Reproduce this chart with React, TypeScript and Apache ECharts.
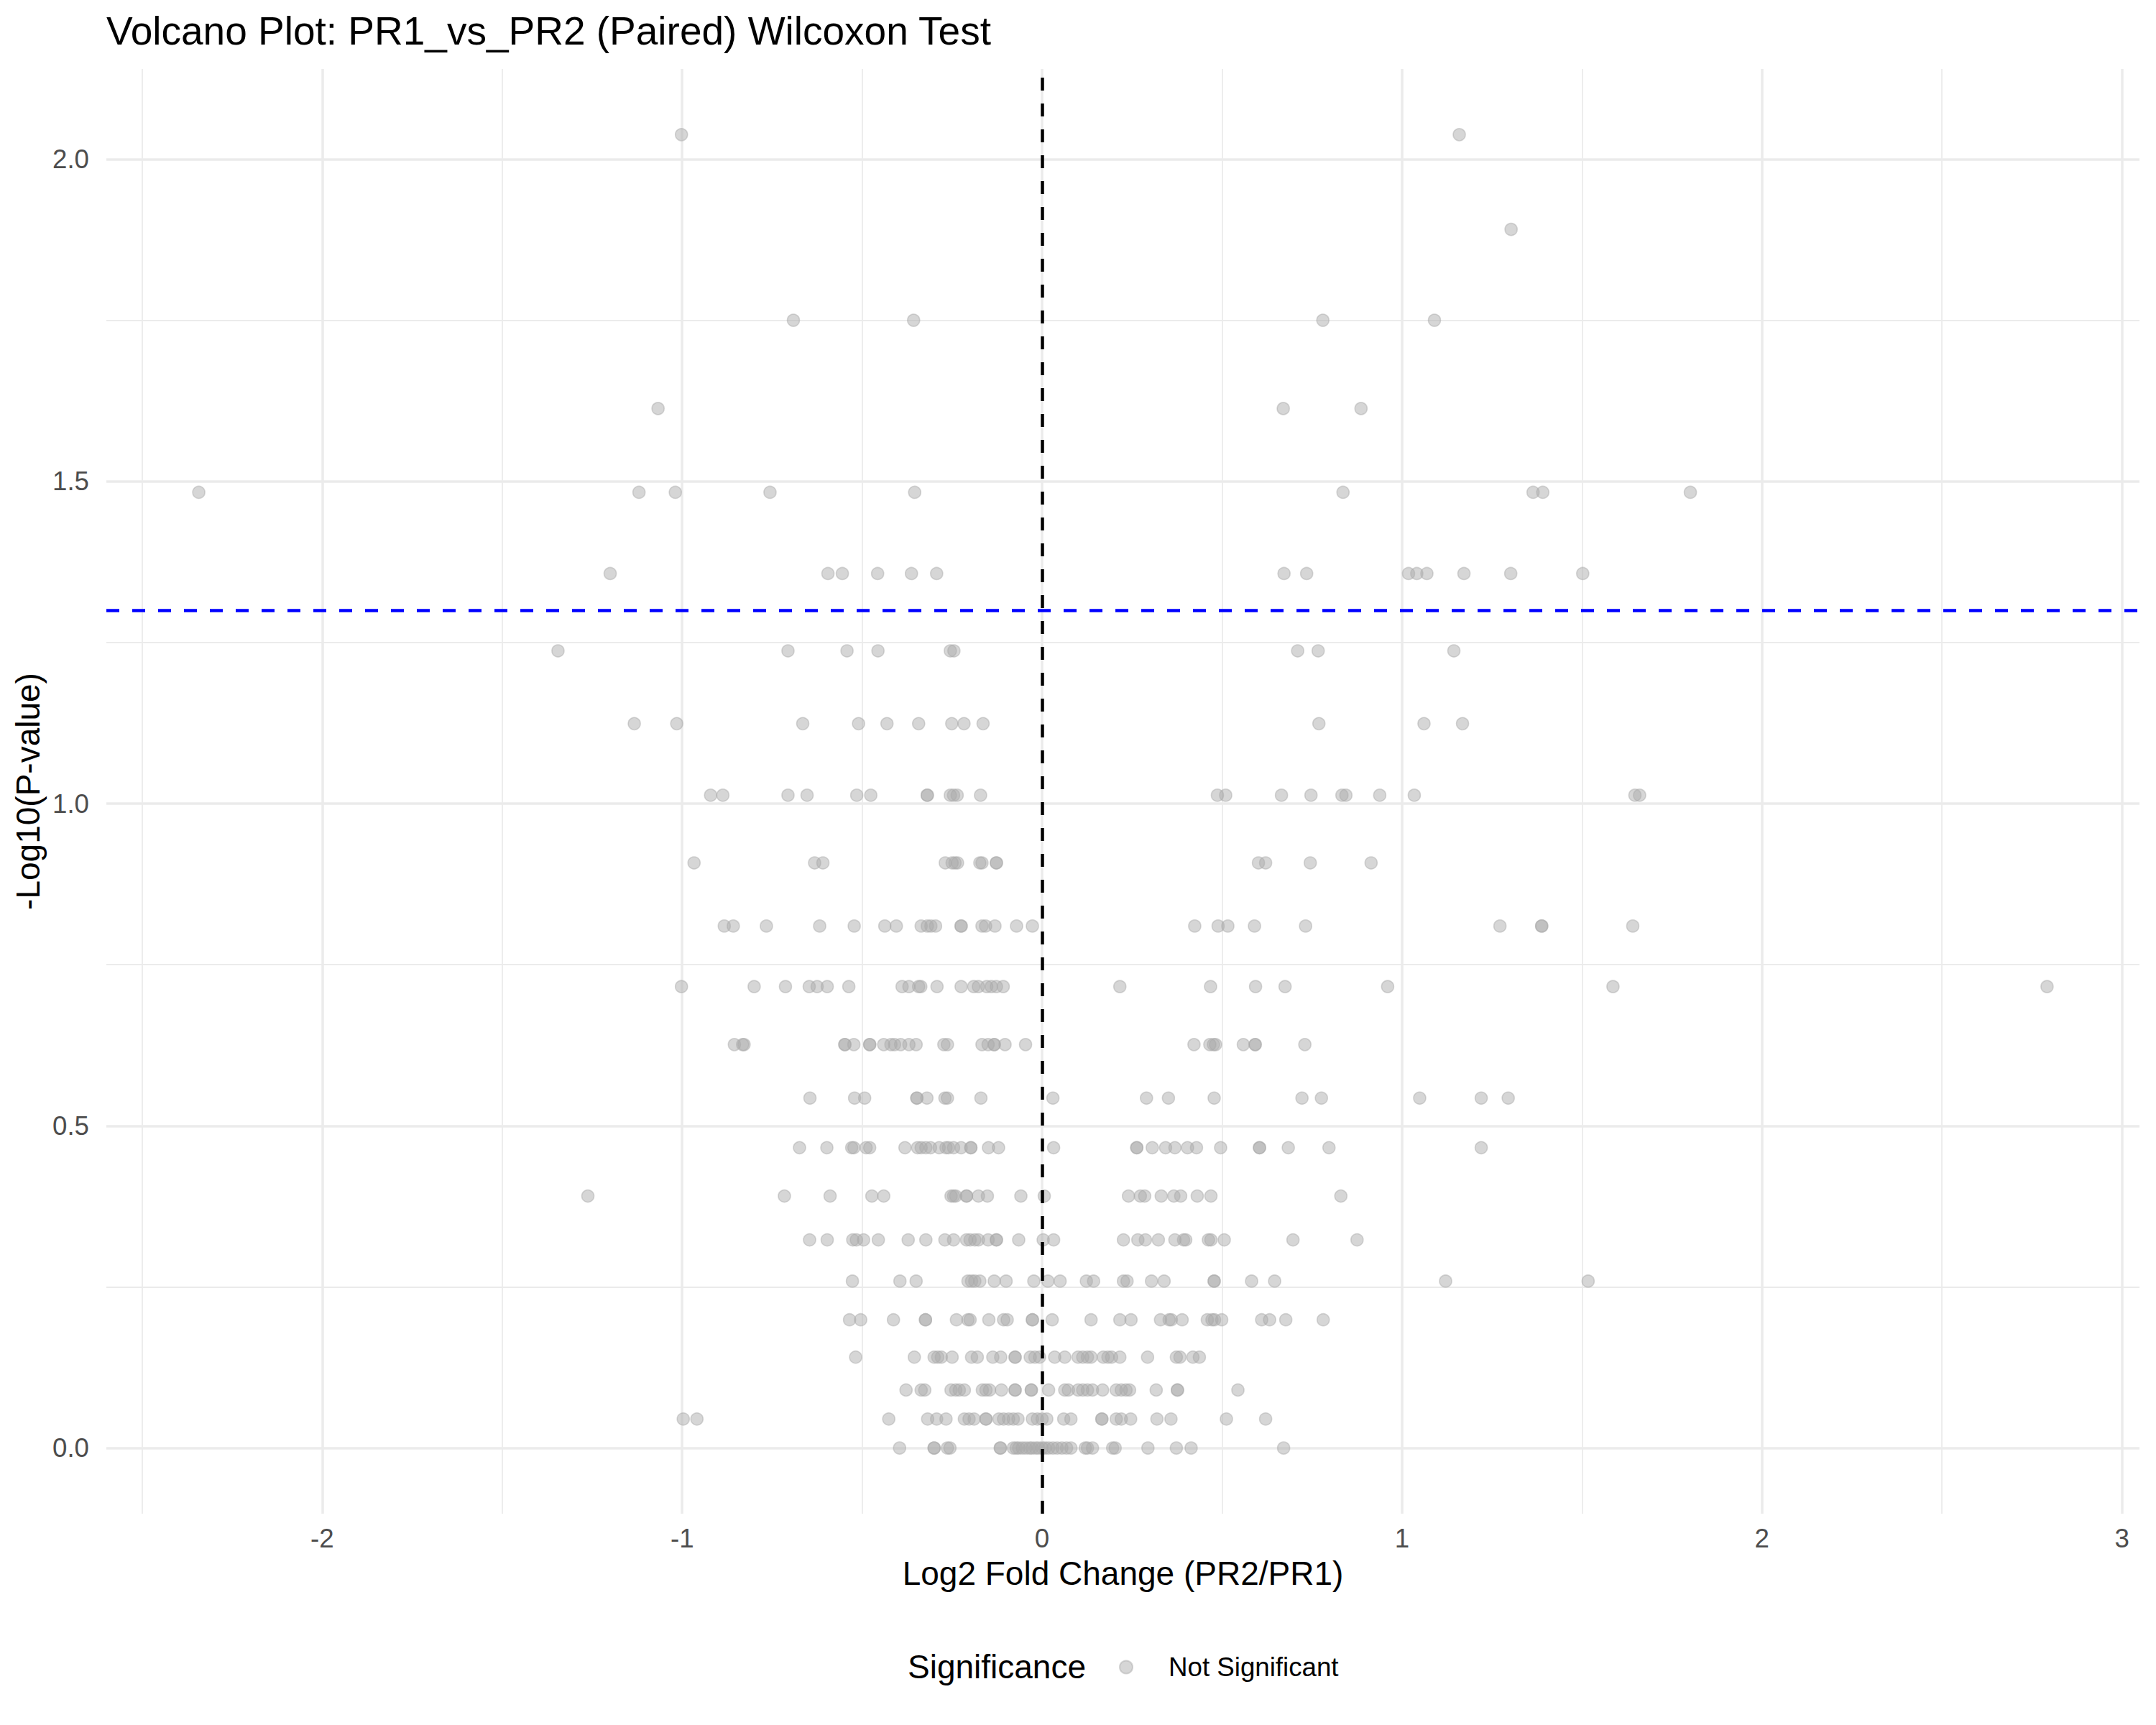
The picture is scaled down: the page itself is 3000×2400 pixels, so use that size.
import React, { useEffect, useRef } from "react";
import * as echarts from "echarts";

// -log10(p) levels observed in the plot (discrete values from the paired Wilcoxon test)
const negLog10PLevels: number[] = [
  0.0, 0.045, 0.09, 0.141, 0.199, 0.259, 0.323, 0.391, 0.466, 0.543, 0.626, 0.716,
  0.81, 0.908, 1.013, 1.124, 1.237, 1.357, 1.483, 1.613, 1.75, 1.891, 2.038,
];

// log2 fold changes of the features found on each -log10(p) level (same order as above)
const log2FCByLevel: number[][] = [
  // 0.000
  [-0.396, -0.3, -0.3, -0.263, -0.256, -0.116, -0.116, -0.08, -0.072, -0.065, -0.055, -0.045, -0.035, -0.028, -0.018,
    -0.01, 0.0, 0.008, 0.018, 0.03, 0.042, 0.055, 0.068, 0.08, 0.12, 0.126, 0.14, 0.196, 0.203, 0.294, 0.373, 0.414, 0.671],
  // 0.045
  [-0.997, -0.959, -0.426, -0.318, -0.293, -0.267, -0.216, -0.203, -0.189, -0.156, -0.156, -0.12, -0.107, -0.093, -0.08,
    -0.067, -0.027, -0.013, 0.0, 0.013, 0.06, 0.08, 0.166, 0.166, 0.206, 0.22, 0.246, 0.319, 0.358, 0.512, 0.621],
  // 0.090
  [-0.378, -0.336, -0.326, -0.253, -0.24, -0.23, -0.216, -0.166, -0.156, -0.146, -0.113, -0.075, -0.075, -0.03, -0.03,
    0.018, 0.063, 0.073, 0.1, 0.113, 0.126, 0.14, 0.168, 0.206, 0.22, 0.233, 0.243, 0.317, 0.376, 0.376, 0.544],
  // 0.141
  [-0.518, -0.355, -0.3, -0.29, -0.28, -0.25, -0.196, -0.18, -0.137, -0.115, -0.075, -0.075, -0.033, -0.02, -0.007,
    0.035, 0.063, 0.1, 0.113, 0.126, 0.136, 0.17, 0.183, 0.193, 0.216, 0.293, 0.373, 0.383, 0.419, 0.437],
  // 0.199
  [-0.535, -0.504, -0.413, -0.324, -0.324, -0.238, -0.206, -0.2, -0.148, -0.107, -0.097, -0.027, -0.027, 0.028, 0.136,
    0.216, 0.247, 0.329, 0.353, 0.359, 0.389, 0.459, 0.472, 0.479, 0.499, 0.61, 0.632, 0.677, 0.781],
  // 0.259
  [-0.527, -0.395, -0.35, -0.206, -0.196, -0.187, -0.173, -0.133, -0.1, -0.023, 0.016, 0.05, 0.123, 0.143, 0.226,
    0.236, 0.304, 0.339, 0.478, 0.478, 0.582, 0.646, 1.121, 1.517],
  // 0.323
  [-0.646, -0.597, -0.526, -0.516, -0.496, -0.455, -0.372, -0.323, -0.27, -0.246, -0.21, -0.2, -0.187, -0.177, -0.15,
    -0.127, -0.127, -0.065, 0.003, 0.032, 0.226, 0.266, 0.287, 0.323, 0.369, 0.393, 0.399, 0.462, 0.469, 0.506, 0.697, 0.875],
  // 0.391
  [-1.262, -0.716, -0.589, -0.473, -0.44, -0.253, -0.246, -0.24, -0.21, -0.21, -0.177, -0.152, -0.059, 0.006, 0.24,
    0.273, 0.285, 0.331, 0.366, 0.385, 0.431, 0.469, 0.83],
  // 0.466
  [-0.674, -0.598, -0.529, -0.523, -0.489, -0.479, -0.381, -0.346, -0.336, -0.323, -0.31, -0.286, -0.267, -0.26, -0.246,
    -0.225, -0.198, -0.198, -0.149, -0.121, 0.032, 0.263, 0.263, 0.306, 0.343, 0.369, 0.404, 0.429, 0.496, 0.604, 0.604,
    0.684, 0.797, 1.22],
  // 0.543
  [-0.645, -0.521, -0.493, -0.348, -0.348, -0.32, -0.27, -0.263, -0.17, 0.03, 0.29, 0.351, 0.478, 0.722, 0.776, 1.049,
    1.22, 1.295],
  // 0.626
  [-0.855, -0.832, -0.828, -0.548, -0.548, -0.523, -0.479, -0.479, -0.44, -0.42, -0.41, -0.393, -0.37, -0.35, -0.273,
    -0.263, -0.167, -0.15, -0.133, -0.133, -0.103, -0.046, 0.422, 0.466, 0.476, 0.482, 0.559, 0.592, 0.592, 0.73],
  // 0.716
  [-1.002, -0.8, -0.713, -0.647, -0.625, -0.597, -0.537, -0.389, -0.37, -0.343, -0.337, -0.292, -0.225, -0.19, -0.177,
    -0.154, -0.141, -0.127, -0.108, 0.216, 0.468, 0.593, 0.675, 0.96, 1.586, 2.792],
  // 0.810
  [-0.883, -0.858, -0.766, -0.618, -0.522, -0.437, -0.405, -0.336, -0.319, -0.309, -0.296, -0.225, -0.225, -0.167,
    -0.157, -0.131, -0.071, -0.027, 0.424, 0.489, 0.516, 0.59, 0.732, 1.272, 1.388, 1.388, 1.641],
  // 0.908
  [-0.967, -0.632, -0.609, -0.269, -0.25, -0.242, -0.235, -0.173, -0.167, -0.127, -0.127, 0.601, 0.621, 0.745, 0.914],
  // 1.013
  [-0.921, -0.887, -0.706, -0.653, -0.515, -0.476, -0.319, -0.319, -0.255, -0.246, -0.236, -0.171, 0.487, 0.51, 0.665,
    0.747, 0.833, 0.844, 0.938, 1.034, 1.647, 1.66],
  // 1.124
  [-1.133, -1.015, -0.665, -0.51, -0.431, -0.343, -0.251, -0.217, -0.164, 0.769, 1.061, 1.168],
  // 1.237
  [-1.345, -0.706, -0.542, -0.456, -0.255, -0.245, 0.71, 0.767, 1.144],
  // 1.357
  [-1.2, -0.595, -0.555, -0.457, -0.363, -0.293, 0.672, 0.735, 1.018, 1.041, 1.069, 1.172, 1.302, 1.502],
  // 1.483
  [-2.343, -1.12, -1.019, -0.756, -0.354, 0.836, 1.364, 1.391, 1.801],
  // 1.613
  [-1.067, 0.67, 0.886],
  // 1.750
  [-0.691, -0.357, 0.78, 1.09],
  // 1.891
  [1.303],
  // 2.038
  [-1.002, 1.159],
];

const xTickLabels: number[] = [-2, -1, 0, 1, 2, 3];
const xMinorGrid: number[] = [-2.5, -1.5, -0.5, 0.5, 1.5, 2.5];
const yTickLabels: number[] = [0, 0.5, 1.0, 1.5, 2.0];
const yMinorGrid: number[] = [0.25, 0.75, 1.25, 1.75];
const pThreshold = 0.05;
const fcCenter = 0;

const FONT = "'Liberation Sans', Arial, Helvetica, sans-serif";

export default function App() {
  const ref = useRef<HTMLDivElement>(null);

  useEffect(() => {
    document.body.style.margin = "0";
    if (!ref.current) return;
    const chart = echarts.init(ref.current, undefined, { renderer: "svg" });

    const points: number[][] = [];
    log2FCByLevel.forEach((xs, i) => {
      xs.forEach((x) => points.push([x, negLog10PLevels[i]]));
    });

    const allX = points.map((p) => p[0]);
    const allY = points.map((p) => p[1]);
    const xMin = Math.min(...allX);
    const xMax = Math.max(...allX);
    const yMin = Math.min(...allY);
    const yMax = Math.max(...allY);
    const xPad = (xMax - xMin) * 0.05;
    const yPad = (yMax - yMin) * 0.05;

    const gridColor = "#EBEBEB";
    const gridLines: any[] = [
      ...xTickLabels.map((v) => ({ xAxis: v, lineStyle: { width: 3.5, color: gridColor, type: "solid" } })),
      ...xMinorGrid.map((v) => ({ xAxis: v, lineStyle: { width: 1.8, color: gridColor, type: "solid" } })),
      ...yTickLabels.map((v) => ({ yAxis: v, lineStyle: { width: 3.5, color: gridColor, type: "solid" } })),
      ...yMinorGrid.map((v) => ({ yAxis: v, lineStyle: { width: 1.8, color: gridColor, type: "solid" } })),
    ];

    const pointColor = "rgba(170,170,170,0.6)";

    chart.setOption({
      animation: false,
      backgroundColor: "#FFFFFF",
      textStyle: { fontFamily: FONT },
      title: [
        {
          text: "Volcano Plot: PR1_vs_PR2 (Paired) Wilcoxon Test",
          left: 148,
          top: 15,
          padding: 0,
          textStyle: { fontFamily: FONT, fontSize: 55, fontWeight: "normal", color: "#000000" },
        },
        {
          text: "Significance",
          left: 1263,
          top: 2296,
          padding: 0,
          textStyle: { fontFamily: FONT, fontSize: 46, fontWeight: "normal", color: "#000000" },
        },
      ],
      legend: {
        data: ["Not Significant"],
        left: 1557,
        top: 2301,
        padding: 0,
        icon: "circle",
        itemWidth: 108,
        itemHeight: 18,
        textStyle: { fontFamily: FONT, fontSize: 36.7, color: "#000000" },
        selectedMode: false,
      },
      grid: { left: 148, right: 23, top: 96, bottom: 294, containLabel: false },
      xAxis: {
        type: "value",
        min: xMin - xPad,
        max: xMax + xPad,
        name: "Log2 Fold Change (PR2/PR1)",
        nameLocation: "middle",
        nameGap: 60,
        nameTextStyle: { fontFamily: FONT, fontSize: 46, color: "#000000" },
        axisLine: { show: false },
        axisTick: { show: false },
        splitLine: { show: false },
        axisLabel: {
          customValues: xTickLabels,
          formatter: (v: number) => String(v),
          fontFamily: FONT,
          fontSize: 36.7,
          color: "#4D4D4D",
          margin: 16,
        },
      },
      yAxis: {
        type: "value",
        min: yMin - yPad,
        max: yMax + yPad,
        name: "-Log10(P-value)",
        nameLocation: "middle",
        nameRotate: 90,
        nameGap: 84,
        nameTextStyle: { fontFamily: FONT, fontSize: 46, color: "#000000" },
        axisLine: { show: false },
        axisTick: { show: false },
        splitLine: { show: false },
        axisLabel: {
          customValues: yTickLabels,
          formatter: (v: number) => v.toFixed(1),
          fontFamily: FONT,
          fontSize: 36.7,
          color: "#4D4D4D",
          margin: 24,
        },
      },
      series: [
        {
          name: "grid",
          type: "scatter",
          data: [],
          silent: true,
          z: 1,
          markLine: {
            silent: true,
            symbol: "none",
            z: 1,
            label: { show: false },
            emphasis: { disabled: true },
            data: gridLines,
          },
        },
        {
          name: "Not Significant",
          type: "scatter",
          data: points,
          symbol: "circle",
          symbolSize: 17,
          z: 3,
          itemStyle: { color: pointColor, borderColor: pointColor, borderWidth: 1.6 },
          emphasis: { disabled: true },
        },
        {
          name: "thresholds",
          type: "scatter",
          data: [],
          silent: true,
          z: 10,
          markLine: {
            silent: true,
            symbol: "none",
            z: 10,
            label: { show: false },
            emphasis: { disabled: true },
            data: [
              { yAxis: -Math.log10(pThreshold), lineStyle: { color: "#0000FF", width: 4.5, type: [18, 18] } },
              { xAxis: fcCenter, lineStyle: { color: "#000000", width: 4.5, type: [18, 18] } },
            ],
          },
        },
      ],
    });

    return () => chart.dispose();
  }, []);

  return <div ref={ref} style={{ width: 3000, height: 2400 }} />;
}
